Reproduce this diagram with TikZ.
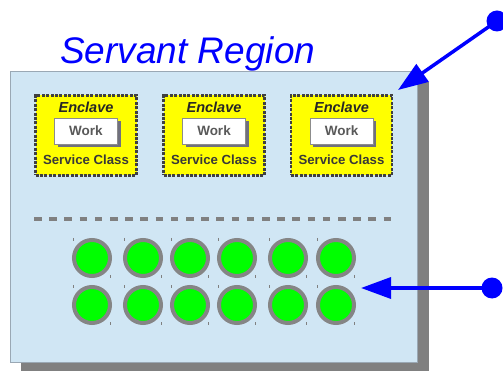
\documentclass[tikz,border=0pt]{standalone}
\usepackage{fontspec}
\setmainfont{Liberation Sans}
\usetikzlibrary{arrows.meta}
\definecolor{regionfill}{HTML}{D0E6F4}
\definecolor{regionline}{HTML}{9AA8B4}
\definecolor{shadowgray}{HTML}{808080}
\definecolor{ringgray}{HTML}{858585}
\definecolor{diskgreen}{HTML}{00FF00}
\definecolor{encyellow}{HTML}{FFFF00}
\definecolor{workshadow}{HTML}{70707E}
\definecolor{pointerblue}{HTML}{0000FF}
\tikzset{
  region/.style={draw=regionline, line width=0.8pt, fill=regionfill},
  regionshadow/.style={fill=shadowgray, draw=none},
  enclave/.style={rectangle, draw=black!75, fill=encyellow, line width=2.3pt,
    dash pattern=on 3pt off 1.4pt, minimum width=101pt, minimum height=80pt, inner sep=0pt},
  enctitle/.style={inner sep=0pt, text=black!85, font=\fontsize{14.5}{16}\selectfont\bfseries\itshape},
  workbox/.style={rectangle, draw=black!45, line width=0.6pt, fill=white,
    minimum width=63pt, minimum height=26pt, inner sep=0pt,
    text=black!65, font=\fontsize{13.5}{15}\selectfont\bfseries},
  workshade/.style={rectangle, fill=workshadow, minimum width=63pt, minimum height=26pt, inner sep=0pt},
  svc/.style={inner sep=0pt, text=black!78, font=\fontsize{13.2}{15}\selectfont\bfseries},
  separator/.style={draw=shadowgray, line width=3.8pt, dash pattern=on 7.5pt off 7.7pt},
  disk/.style={circle, draw=ringgray, line width=4pt, fill=diskgreen, minimum size=36pt, inner sep=0pt},
  handle/.style={draw=shadowgray, line width=0.7pt},
  pointer/.style={draw=pointerblue, line width=3.5pt,
    -{Triangle[length=30pt, width=21pt]}},
  pointerdot/.style={circle, fill=pointerblue, minimum size=21pt, inner sep=0pt},
  title/.style={inner sep=0pt, text=pointerblue, font=\fontsize{37}{40}\selectfont\itshape}
}
\begin{document}
\begin{tikzpicture}[x=1pt, y=-1pt]
  \useasboundingbox (0,0) rectangle (503,371);

  % region panel with its drop shadow
  \fill[regionshadow] (21,82) rectangle (429,374);
  \filldraw[region] (10,71) rectangle (417,362);

  \node[title, anchor=base west] (title) at (60,64) {Servant Region};

  % enclaves holding a work unit each
  \foreach \cx/\n in {86/1, 214/2, 341.5/3} {
    \node[enclave] (enc\n) at (\cx,135.5) {};
    \node[enctitle] (enct\n) at (\cx,107) {Enclave};
    \node[workshade] (wsh\n) at (\cx+3,134) {};
    \node[workbox] (work\n) at (\cx,131) {Work};
    \node[svc] (svc\n) at (\cx,160) {Service Class};
  }

  % dashed divider
  \coordinate (divl) at (34,219);
  \coordinate (divr) at (391,219);
  \draw[separator] (divl) -- (divr);

  % pool of servers
  \foreach \cx [count=\i] in {92,143,190,237,288,336} {
    \foreach \cy [count=\j] in {258,305} {
      \node[disk] (d\i\j) at (\cx,\cy) {};
      \draw[handle] (\cx-19,\cy-20) -- ++(0,3);
      \draw[handle] (\cx+18,\cy+17) -- ++(0,3);
    }
  }

  % call-out pointers
  \node[pointerdot] (p1) at (497,21) {};
  \coordinate (t1) at (398,90);
  \draw[pointer] (p1.center) -- (t1);

  \node[pointerdot] (p2) at (492,288) {};
  \coordinate (t2) at (361,288);
  \draw[pointer] (p2.center) -- (t2);
\end{tikzpicture}
\end{document}
